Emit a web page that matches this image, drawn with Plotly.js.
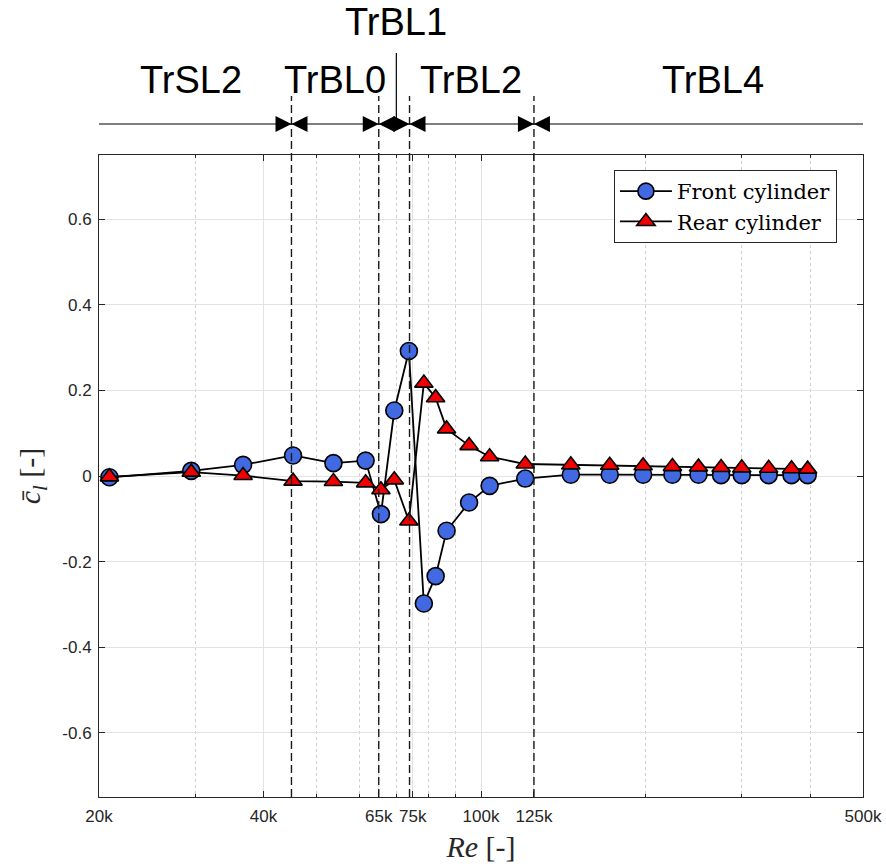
<!DOCTYPE html>
<html><head><meta charset="utf-8">
<script src="https://cdn.plot.ly/plotly-3.0.1.min.js"></script>
<style>html,body{margin:0;padding:0;background:#fff}</style>
</head><body><div id="chart" style="width:886px;height:868px"></div>
<script>
// Reynolds numbers of the measurement points
const re = [20900, 29500, 36700, 45300, 53700, 61500, 65600, 69400, 73800, 78600, 82600, 86500, 95100, 103700, 120500,
            146000, 172000, 198000, 224000, 250000, 275000, 300000, 336000, 370000, 396000];
// mean lift coefficient, front cylinder
const clFront = [-0.003, 0.012, 0.026, 0.048, 0.030, 0.036, -0.089, 0.153, 0.292, -0.298, -0.234, -0.128, -0.062, -0.023, -0.006,
                 0.003, 0.003, 0.003, 0.003, 0.003, 0.002, 0.002, 0.002, 0.002, 0.002];
// mean lift coefficient, rear cylinder
const clRear = [-0.002, 0.009, 0.001, -0.012, -0.013, -0.016, -0.032, -0.009, -0.105, 0.217, 0.183, 0.110, 0.071, 0.045, 0.028,
                0.026, 0.025, 0.024, 0.022, 0.021, 0.020, 0.019, 0.018, 0.017, 0.016];
// flow regime boundaries and labels
const regimeBounds = [45000, 65000, 74000, 125000];
const trbl1Re = 70000;
const regimeLabels = ['TrSL2', 'TrBL0', 'TrBL1', 'TrBL2', 'TrBL4'];
const regimeLabelRe = [29500, 54000, 70000, 96000, 266000];
// axis ticks
const xTickVals = [20000, 40000, 65000, 75000, 100000, 125000, 500000];
const xTickText = ['20k', '40k', '65k', '75k', '100k', '125k', '500k'];
const xMinorVals = [30000, 50000, 60000, 70000, 80000, 90000, 200000, 300000, 400000];
const yTickVals = [-0.6, -0.4, -0.2, 0, 0.2, 0.4, 0.6];
const yTickText = ['-0.6', '-0.4', '-0.2', '0', '0.2', '0.4', '0.6'];

const AX = '#262626';
const SANS = 'Liberation Sans, Arial, Helvetica, sans-serif';
const SERIF = 'Liberation Serif, Times New Roman, serif';

const traces = [
  {x: re, y: clFront, type: 'scatter', mode: 'lines+markers', name: 'Front cylinder',
   line: {color: 'black', width: 1.8},
   marker: {symbol: 'circle', size: 17, color: '#4169E1', line: {color: 'black', width: 1.6}}},
  {x: re, y: clRear, type: 'scatter', mode: 'lines+markers', name: 'Rear cylinder',
   line: {color: 'black', width: 1.8},
   marker: {symbol: 'triangle-up', size: 16, color: '#F00000', line: {color: 'black', width: 1.6}}}
];

const lineY = 1.0483;
const shapes = [];
regimeBounds.forEach(b => {
  shapes.push({type: 'line', xref: 'x', yref: 'paper', x0: b, x1: b, y0: 0, y1: 1.0919,
               layer: 'above', line: {color: '#1a1a1a', width: 1.4, dash: '8px,4px'}});
  shapes.push({type: 'path', xref: 'x', yref: 'paper', xsizemode: 'pixel', ysizemode: 'pixel',
               xanchor: b, yanchor: lineY, path: 'M-16,-8 L0,0 L-16,8 Z',
               fillcolor: 'black', line: {width: 0}});
  shapes.push({type: 'path', xref: 'x', yref: 'paper', xsizemode: 'pixel', ysizemode: 'pixel',
               xanchor: b, yanchor: lineY, path: 'M16,-8 L0,0 L16,8 Z',
               fillcolor: 'black', line: {width: 0}});
});
shapes.push({type: 'line', xref: 'paper', yref: 'paper', x0: 0, x1: 1, y0: lineY, y1: lineY,
             line: {color: 'black', width: 1.2}});
shapes.push({type: 'line', xref: 'x', yref: 'paper', x0: trbl1Re, x1: trbl1Re, y0: 1.0389, y1: 1.1589,
             line: {color: 'black', width: 1.2}});

const annotations = regimeLabels.map((t, i) => ({
  text: t, xref: 'x', yref: 'paper', x: Math.log10(regimeLabelRe[i]),
  y: t === 'TrBL1' ? 1.2072 : 1.1168, xanchor: 'center', yanchor: 'middle',
  showarrow: false, font: {family: SANS, size: 38, color: 'black'}
}));

const layout = {
  width: 886, height: 868,
  margin: {l: 99, r: 23, t: 155, b: 71},
  paper_bgcolor: 'white', plot_bgcolor: 'white',
  showlegend: true,
  legend: {x: 0.674, y: 0.9766, xanchor: 'left', yanchor: 'top', bgcolor: 'white',
           bordercolor: AX, borderwidth: 1,
           font: {family: 'DejaVu Serif, Liberation Serif, serif', size: 21, color: 'black'},
           itemwidth: 52, tracegroupgap: 0},
  xaxis: {
    type: 'log', range: [Math.log10(20000), Math.log10(500000)],
    tickmode: 'array', tickvals: xTickVals, ticktext: xTickText,
    ticks: 'inside', ticklen: 6, tickcolor: AX, tickwidth: 1,
    showline: true, linecolor: AX, linewidth: 1, mirror: 'allticks',
    showgrid: true, gridcolor: '#e3e3e3', gridwidth: 1, zeroline: false,
    minor: {tickmode: 'array', tickvals: xMinorVals, ticks: 'inside', ticklen: 3, tickcolor: AX,
            showgrid: true, gridcolor: '#cfcfcf', griddash: 'dot', gridwidth: 1},
    tickfont: {family: SANS, size: 17, color: AX},
    ticklabelstandoff: 4,
    title: {text: '<i>Re</i> [-]', font: {family: SERIF, size: 30, color: AX}, standoff: 10}
  },
  yaxis: {
    range: [-0.75, 0.75],
    tickmode: 'array', tickvals: yTickVals, ticktext: yTickText,
    ticks: 'inside', ticklen: 6, tickcolor: AX, tickwidth: 1,
    showline: true, linecolor: AX, linewidth: 1, mirror: 'allticks',
    showgrid: true, gridcolor: '#e3e3e3', gridwidth: 1, zeroline: false,
    tickfont: {family: SANS, size: 17, color: AX},
    ticklabelstandoff: 3,
    title: {text: '<i>c\u0304</i><sub><i>l</i></sub> [-]', font: {family: SERIF, size: 30, color: AX}, standoff: 12}
  },
  shapes: shapes,
  annotations: annotations
};

Plotly.newPlot('chart', traces, layout, {displayModeBar: false, staticPlot: true});
</script>
</body></html>
